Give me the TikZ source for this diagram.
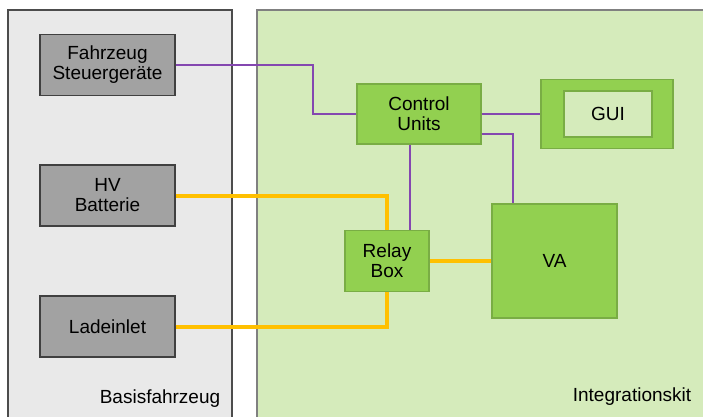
\documentclass[tikz,border=0pt]{standalone}
\usepackage{fontspec}
\setmainfont{Liberation Sans}
\usetikzlibrary{positioning}

\definecolor{vehfill}{HTML}{E9E9E9}
\definecolor{kitfill}{HTML}{D5EBBB}
\definecolor{boxgray}{HTML}{A2A2A2}
\definecolor{unitgreen}{HTML}{92D050}
\definecolor{unitedge}{HTML}{79AD44}
\definecolor{buspurple}{HTML}{8447B0}
\definecolor{hvyellow}{HTML}{FFC000}

\tikzset{
  vehbox/.style={draw=black!75, fill=boxgray, line width=1.2pt, align=center,
    minimum width=135, minimum height=61, inner sep=0pt},
  unitbox/.style={draw=unitedge, fill=unitgreen, line width=1.2pt, align=center,
    inner sep=0pt},
  bus/.style={draw=buspurple, line width=2.2pt},
  hvline/.style={draw=hvyellow, line width=4pt},
}

\begin{document}
\begin{tikzpicture}[x=1pt, y=-1pt, font=\fontsize{19}{20}\selectfont]
		\useasboundingbox (0,0) rectangle (703,416);

		% Basisfahrzeug / Integrationskit
		\filldraw[fill=vehfill, draw=black!70, line width=1.2pt] (8,420) -- (8,10) -- (232,10) -- (232,420);
		\filldraw[fill=kitfill, draw=black!50, line width=1.2pt] (257,420) -- (257,10) -- (710,10) -- (710,420);
		\node (basis) at (160,399) {Basisfahrzeug};
		\node (kit) at (632,397) {Integrationskit};

		\node[vehbox] (fz) at (107.5,65) {Fahrzeug\\Steuergeräte};
		\node[vehbox] (hv) at (107.5,195.5) {HV\\Batterie};
		\node[vehbox] (ld) at (107.5,326.5) {Ladeinlet};

		\node[unitbox, minimum width=124, minimum height=60] (cu) at (419,114) {Control\\Units};
		\node[unitbox, minimum width=132, minimum height=69] (gui) at (607,114) {};
		\node[draw=unitedge, fill=kitfill, line width=1.2pt, minimum width=88, minimum height=46] (guiin) at (608,114) {GUI};
		\node[unitbox, minimum width=84, minimum height=61] (rb) at (387,261) {Relay\\Box};
		\node[unitbox, minimum width=125, minimum height=114] (va) at (554.5,261) {VA};

		% signal lines
		\draw[bus] (fz.east) -- ++(137,0) |- (cu.west);
		\draw[bus] (cu.east) -- (gui.west);
		\draw[bus] ([yshift=11]cu.south east) -| ([xshift=-41.5]va.north);
		\draw[bus] ([xshift=-9]cu.south) -- ([xshift=-9]cu.south |- rb.north);

		% HV lines
		\draw[hvline] (hv.east) -| (rb.north);
		\draw[hvline] (ld.east) -| (rb.south);
		\draw[hvline] (rb.east) -- (va.west);

	\end{tikzpicture}
\end{document}
